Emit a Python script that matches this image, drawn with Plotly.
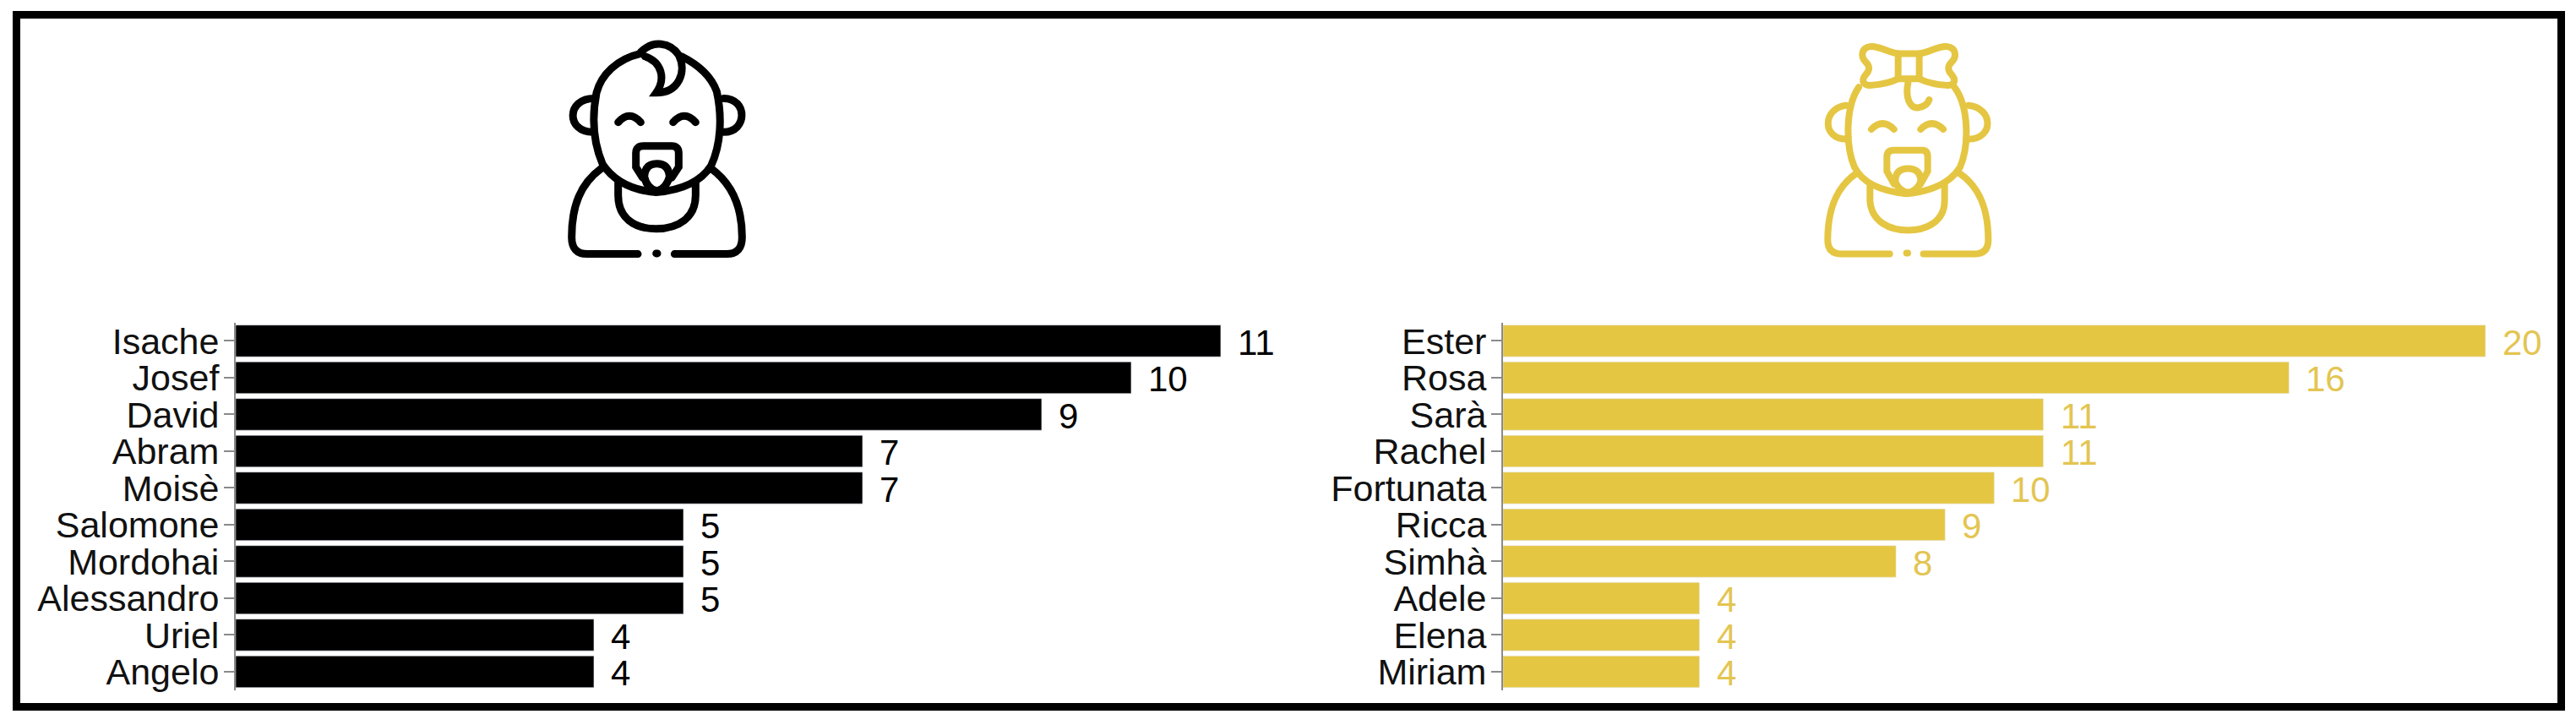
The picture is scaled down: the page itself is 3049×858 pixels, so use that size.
import re
import plotly.graph_objects as go

W = 3049
H = 858

# Top names and counts
boy_names = ["Isache", "Josef", "David", "Abram", "Moisè", "Salomone", "Mordohai", "Alessandro", "Uriel", "Angelo"]
boy_counts = [11, 10, 9, 7, 7, 5, 5, 5, 4, 4]
girl_names = ["Ester", "Rosa", "Sarà", "Rachel", "Fortunata", "Ricca", "Simhà", "Adele", "Elena", "Miriam"]
girl_counts = [20, 16, 11, 11, 10, 9, 8, 4, 4, 4]

BLACK = "#000000"
YELLOW = "#E5C643"
LABEL_YELLOW = "#E3C552"
FONT = "Liberation Sans"

# Icon outlines, traced in 3x crop coordinates (crop origin added below)
boy_icon = [
    "M475 185 C390 205 335 260 318 325 C300 420 310 510 340 580 C380 640 440 672 530 680 C620 672 690 640 725 585 C760 510 765 410 745 320 C725 265 680 225 620 195",
    "M310 345 C210 345 210 465 305 465",
    "M770 345 C855 345 855 465 770 465",
    "M475 180 C520 135 580 145 610 190 C640 250 610 325 530 325 C565 275 550 215 490 195",
    "M395 430 Q435 385 475 430",
    "M590 430 Q630 385 670 430",
    "M482 628 L458 590 L458 540 Q458 515 485 515 L585 515 Q610 515 610 540 L610 590 L585 628",
    "M488 625 Q490 578 532 578 Q575 578 577 625 Q565 668 532 675 Q498 668 488 625",
    "M335 595 C260 650 230 730 230 840 Q230 900 285 900 L465 900",
    "M725 595 C800 650 835 730 835 840 Q835 900 780 900 L595 900",
    "M395 640 L395 690 C395 770 450 810 530 810 C610 810 670 770 670 690 L670 640",
    "M530 898 L534 898",
]
girl_icon = [
    "M300 305 C250 380 255 520 285 590 C310 640 370 675 470 685 C570 675 630 640 660 590 C690 520 695 380 640 305",
    "M255 370 C170 380 170 490 255 490",
    "M690 370 C780 380 780 490 690 490",
    "M440 185 L515 185 L515 275 L440 275 Z",
    "M440 185 C400 180 370 155 340 160 C310 165 305 195 325 215 C340 230 340 245 325 260 C305 285 320 300 345 298 C385 295 420 285 440 275",
    "M515 185 C555 180 585 155 615 160 C645 165 650 195 630 215 C615 230 615 245 630 260 C650 285 635 300 610 298 C570 295 535 285 515 275",
    "M475 290 C465 340 480 380 510 378 C530 376 545 365 550 350",
    "M345 455 Q385 415 425 455",
    "M520 455 Q560 415 600 455",
    "M425 650 L400 605 L400 555 Q400 530 425 530 L525 530 Q545 530 545 555 L545 605 L520 650",
    "M430 640 Q430 595 475 595 Q520 595 520 640 Q510 675 475 680 Q440 675 430 640",
    "M295 610 C220 660 190 740 190 850 Q190 900 240 900 L410 900",
    "M655 610 C730 660 760 740 760 850 Q760 900 710 900 L530 900",
    "M340 660 L340 710 C345 785 410 815 475 815 C540 815 605 785 605 710 L605 650",
    "M470 897 L474 897",
]


def to_paper(path, x0):
    # crop coords -> page pixels -> paper fractions
    nums = iter(re.findall(r"[A-Z]|\d+", path))
    out = []
    for tok in nums:
        if tok.isalpha():
            out.append(tok)
        else:
            px = x0 + float(tok) / 3
            py = float(next(nums)) / 3
            out.append(f"{px / W:.5f},{1 - py / H:.5f}")
    return " ".join(out)


fig = go.Figure()

fig.add_trace(go.Bar(x=boy_counts, y=boy_names, orientation="h", marker_color=BLACK,
                     xaxis="x", yaxis="y", showlegend=False))
fig.add_trace(go.Bar(x=girl_counts, y=girl_names, orientation="h", marker_color=YELLOW,
                     xaxis="x2", yaxis="y2", showlegend=False))

# Value labels sit further from the bar end than the bar's own outside text
annotations = []
for names, counts, xref, yref, color in [(boy_names, boy_counts, "x", "y", BLACK),
                                         (girl_names, girl_counts, "x2", "y2", LABEL_YELLOW)]:
    for name, count in zip(names, counts):
        annotations.append(dict(x=count, y=name, xref=xref, yref=yref, text=str(count), showarrow=False,
                                xanchor="left", xshift=18, yshift=-2, font=dict(family=FONT, size=42, color=color)))

shapes = [dict(type="rect", xref="paper", yref="paper", x0=19.5 / W, x1=3031.5 / W,
               y0=1 - 838.5 / H, y1=1 - 15.5 / H, line=dict(color=BLACK, width=9))]
for p in boy_icon:
    shapes.append(dict(type="path", xref="paper", yref="paper", path=to_paper(p, 600),
                       line=dict(color=BLACK, width=9)))
for p in girl_icon:
    shapes.append(dict(type="path", xref="paper", yref="paper", path=to_paper(p, 2100),
                       line=dict(color=YELLOW, width=8)))

y_domain = [1 - 818.5 / H, 1 - 381.5 / H]
y_style = dict(autorange=False, range=[9.5, -0.5], type="category", dtick=1, showgrid=False, showline=True,
               linecolor="#8a8a8a", linewidth=2, ticks="outside", ticklen=12, tickwidth=2, tickcolor="#8a8a8a",
               ticklabelstandoff=-3, tickfont=dict(family=FONT, size=43, color="#111111"), domain=y_domain)

fig.update_layout(
    width=W, height=H, margin=dict(l=0, r=0, t=0, b=0),
    paper_bgcolor="white", plot_bgcolor="white", bargap=0.14,
    xaxis=dict(domain=[279 / W, 1500 / W], range=[0, 11.52], visible=False),
    yaxis=dict(anchor="x", **y_style),
    xaxis2=dict(domain=[1779 / W, 3000 / W], range=[0, 21], visible=False),
    yaxis2=dict(anchor="x2", **y_style),
    annotations=annotations, shapes=shapes,
)

# Rounded stroke ends on the icons, and no page margin so the figure fills the window
post = """document.body.style.margin='0';
document.querySelectorAll('.shapelayer path').forEach(function(p){p.style.strokeLinecap='round';});"""
fig.write_html("out.html", post_script=post, config=dict(displayModeBar=False))
